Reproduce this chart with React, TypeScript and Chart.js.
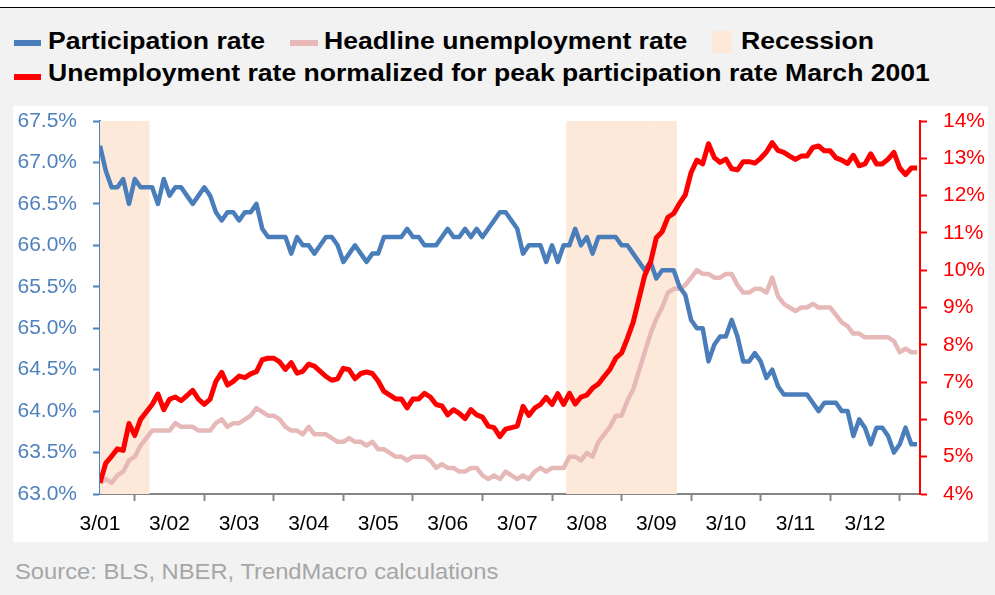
import React, { useEffect, useRef } from "react";
import { Chart, registerables } from "chart.js";

Chart.register(...registerables);

// Monthly data, March 2001 (index 0) to December 2012 (index 141)
const participationRate = [
  67.2, 66.9, 66.7, 66.7, 66.8, 66.5, 66.8, 66.7, 66.7, 66.7,
  66.5, 66.8, 66.6, 66.7, 66.7, 66.6, 66.5, 66.6, 66.7, 66.6, 66.4, 66.3,
  66.4, 66.4, 66.3, 66.4, 66.4, 66.5, 66.2, 66.1, 66.1, 66.1, 66.1, 65.9,
  66.1, 66.0, 66.0, 65.9, 66.0, 66.1, 66.1, 66.0, 65.8, 65.9, 66.0, 65.9,
  65.8, 65.9, 65.9, 66.1, 66.1, 66.1, 66.1, 66.2, 66.1, 66.1, 66.0, 66.0,
  66.0, 66.1, 66.2, 66.1, 66.1, 66.2, 66.1, 66.2, 66.1, 66.2, 66.3, 66.4,
  66.4, 66.3, 66.2, 65.9, 66.0, 66.0, 66.0, 65.8, 66.0, 65.8, 66.0, 66.0,
  66.2, 66.0, 66.1, 65.9, 66.1, 66.1, 66.1, 66.1, 66.0, 66.0, 65.9, 65.8,
  65.7, 65.8, 65.6, 65.7, 65.7, 65.7, 65.5, 65.4, 65.1, 65.0, 65.0, 64.6,
  64.8, 64.9, 64.9, 65.1, 64.9, 64.6, 64.6, 64.7, 64.6, 64.4, 64.5, 64.3,
  64.2, 64.2, 64.2, 64.2, 64.2, 64.1, 64.0, 64.1, 64.1, 64.1, 64.0, 64.0,
  63.7, 63.9, 63.8, 63.6, 63.8, 63.8, 63.7, 63.5, 63.6, 63.8, 63.6, 63.6,
];

const headlineUnemployment = [
  4.3, 4.4, 4.3, 4.5, 4.6, 4.9, 5.0, 5.3, 5.5, 5.7,
  5.7, 5.7, 5.7, 5.9, 5.8, 5.8, 5.8, 5.7, 5.7, 5.7, 5.9, 6.0,
  5.8, 5.9, 5.9, 6.0, 6.1, 6.3, 6.2, 6.1, 6.1, 6.0, 5.8, 5.7,
  5.7, 5.6, 5.8, 5.6, 5.6, 5.6, 5.5, 5.4, 5.4, 5.5, 5.4, 5.4,
  5.3, 5.4, 5.2, 5.2, 5.1, 5.0, 5.0, 4.9, 5.0, 5.0, 5.0, 4.9,
  4.7, 4.8, 4.7, 4.7, 4.6, 4.6, 4.7, 4.7, 4.5, 4.4, 4.5, 4.4,
  4.6, 4.5, 4.4, 4.5, 4.4, 4.6, 4.7, 4.6, 4.7, 4.7, 4.7, 5.0,
  5.0, 4.9, 5.1, 5.0, 5.4, 5.6, 5.8, 6.1, 6.1, 6.5, 6.8, 7.3,
  7.8, 8.3, 8.7, 9.0, 9.4, 9.5, 9.5, 9.6, 9.8, 10.0, 9.9, 9.9,
  9.8, 9.8, 9.9, 9.9, 9.6, 9.4, 9.4, 9.5, 9.5, 9.4, 9.8, 9.3,
  9.1, 9.0, 8.9, 9.0, 9.0, 9.1, 9.0, 9.0, 9.0, 8.8, 8.6, 8.5,
  8.3, 8.3, 8.2, 8.2, 8.2, 8.2, 8.2, 8.1, 7.8, 7.9, 7.8, 7.8,
];

const normalizedUnemployment = [
  4.30, 4.83, 5.01, 5.21, 5.17, 5.89, 5.57, 6.00, 6.20, 6.40,
  6.68, 6.26, 6.54, 6.60, 6.50, 6.64, 6.78, 6.54, 6.40, 6.54, 7.02, 7.26,
  6.92, 7.02, 7.16, 7.12, 7.22, 7.28, 7.60, 7.64, 7.64, 7.54, 7.34, 7.52,
  7.24, 7.29, 7.48, 7.43, 7.29, 7.15, 7.05, 7.09, 7.37, 7.33, 7.09, 7.23,
  7.27, 7.23, 7.03, 6.75, 6.65, 6.55, 6.55, 6.31, 6.55, 6.55, 6.70, 6.60,
  6.40, 6.36, 6.12, 6.26, 6.16, 6.02, 6.26, 6.12, 6.06, 5.82, 5.78, 5.54,
  5.74, 5.78, 5.82, 6.35, 6.11, 6.30, 6.40, 6.59, 6.40, 6.69, 6.40, 6.70,
  6.41, 6.60, 6.65, 6.84, 6.95, 7.15, 7.34, 7.64, 7.78, 8.17, 8.60, 9.23,
  9.86, 10.21, 10.87, 11.03, 11.42, 11.52, 11.79, 12.02, 12.62, 12.95, 12.85, 13.39,
  13.02, 12.89, 12.98, 12.72, 12.69, 12.91, 12.91, 12.87, 13.00, 13.17, 13.42, 13.21,
  13.16, 13.06, 12.97, 13.06, 13.06, 13.29, 13.33, 13.20, 13.20, 13.01, 12.95, 12.86,
  13.08, 12.80, 12.85, 13.12, 12.85, 12.85, 12.98, 13.16, 12.74, 12.56, 12.74, 12.74,
];

// NBER recessions, as month indexes (first and last month)
const recessionStartMonths = [0, 81];
const recessionEndMonths = [8, 99];

const xTickMonths = [0, 12, 24, 36, 48, 60, 72, 84, 96, 108, 120, 132];
const xTickLabels = ["3/01", "3/02", "3/03", "3/04", "3/05", "3/06", "3/07", "3/08", "3/09", "3/10", "3/11", "3/12"];

const leftAxisMin = 63;
const leftAxisMax = 67.5;
const rightAxisMin = 4;
const rightAxisMax = 14;

const FONT = "'Liberation Sans', Arial, sans-serif";

export default function App() {
  const canvasRef = useRef<HTMLCanvasElement>(null);

  useEffect(() => {
    const toPoints = (arr: number[]) => arr.map((v, i) => ({ x: i, y: v }));
    const recessionPoints: { x: number; y: number }[] = [];
    recessionStartMonths.forEach((s, k) => {
      for (let m = s; m <= recessionEndMonths[k]; m++) recessionPoints.push({ x: m, y: 1 });
    });

    const tickFont = { family: FONT, size: 21 };

    const chart = new Chart(canvasRef.current as HTMLCanvasElement, {
      type: "line",
      data: {
        datasets: [
          {
            type: "line",
            label: "Unemployment rate normalized for peak participation rate March 2001",
            data: toPoints(normalizedUnemployment),
            borderColor: "#ff0000",
            backgroundColor: "#ff0000",
            borderWidth: 5,
            pointRadius: 0,
            borderJoinStyle: "round",
            yAxisID: "yR",
            order: 1,
          },
          {
            type: "line",
            label: "Participation rate",
            data: toPoints(participationRate),
            borderColor: "#4a7ebb",
            backgroundColor: "#4a7ebb",
            borderWidth: 4.5,
            pointRadius: 0,
            borderJoinStyle: "round",
            yAxisID: "yL",
            order: 2,
          },
          {
            type: "line",
            label: "Headline unemployment rate",
            data: toPoints(headlineUnemployment),
            borderColor: "#e6b9b8",
            backgroundColor: "#e6b9b8",
            borderWidth: 4.5,
            pointRadius: 0,
            borderJoinStyle: "round",
            yAxisID: "yR",
            order: 3,
          },
          {
            type: "bar",
            label: "Recession",
            data: recessionPoints,
            backgroundColor: "#fde9d9",
            borderWidth: 0,
            barPercentage: 1,
            categoryPercentage: 1,
            yAxisID: "yRec",
            order: 10,
          } as any,
        ],
      },
      options: {
        animation: false,
        responsive: false,
        maintainAspectRatio: false,
        layout: { padding: { top: 15, left: 0, right: 0, bottom: 0 } },
        plugins: { legend: { display: false }, tooltip: { enabled: false } },
        scales: {
          x: {
            type: "linear",
            min: 0,
            max: 141.5,
            offset: false,
            afterBuildTicks: (scale: any) => {
              scale.ticks = xTickMonths.map((v) => ({ value: v }));
            },
            afterFit: (scale: any) => {
              scale.height = 48;
              scale.paddingLeft = 0;
              scale.paddingRight = 0;
            },
            ticks: {
              autoSkip: false,
              maxRotation: 0,
              color: "#000000",
              font: tickFont,
              padding: 11,
              callback: (v: any) => {
                const i = xTickMonths.indexOf(Number(v));
                return i >= 0 ? xTickLabels[i] : "";
              },
            },
            grid: { drawOnChartArea: false, drawTicks: true, tickLength: 7, tickColor: "#868686", tickWidth: 2 },
            border: { color: "#868686", width: 2 },
          },
          yL: {
            type: "linear",
            position: "left",
            min: leftAxisMin,
            max: leftAxisMax,
            afterFit: (scale: any) => {
              scale.width = 100;
              scale.paddingTop = 0;
              scale.paddingBottom = 0;
            },
            ticks: {
              stepSize: 0.5,
              color: "#4f81bd",
              font: tickFont,
              padding: 16,
              callback: (v: any) => Number(v).toFixed(1) + "%",
            },
            grid: { drawOnChartArea: false, drawTicks: true, tickLength: 7, tickColor: "#4f81bd", tickWidth: 2 },
            border: { color: "#4f81bd", width: 2 },
          },
          yR: {
            type: "linear",
            position: "right",
            min: rightAxisMin,
            max: rightAxisMax,
            afterFit: (scale: any) => {
              scale.width = 75;
              scale.paddingTop = 0;
              scale.paddingBottom = 0;
            },
            ticks: {
              stepSize: 1,
              color: "#ff0000",
              font: tickFont,
              padding: 16,
              callback: (v: any) => Number(v).toFixed(0) + "%",
            },
            grid: { drawOnChartArea: false, drawTicks: true, tickLength: 7, tickColor: "#ff0000", tickWidth: 2 },
            border: { color: "#ff0000", width: 2 },
          },
          yRec: {
            type: "linear",
            display: false,
            min: 0,
            max: 1,
          },
        },
      } as any,
    });
    return () => chart.destroy();
  }, []);

  const legendText: React.CSSProperties = {
    position: "absolute",
    fontFamily: FONT,
    fontWeight: "bold",
    fontSize: 24.5,
    lineHeight: "24.5px",
    color: "#000",
    whiteSpace: "nowrap",
    transform: "scaleX(1.085)",
    transformOrigin: "left center",
  };
  const swatch = (left: number, top: number, w: number, h: number, color: string): React.CSSProperties => ({
    position: "absolute",
    left,
    top,
    width: w,
    height: h,
    background: color,
  });

  return (
    <div
      style={{
        position: "absolute",
        left: 0,
        top: 0,
        width: 995,
        height: 595,
        background: "#f2f2f2",
        overflow: "hidden",
      }}
    >
      <div style={{ position: "absolute", left: 0, top: 0, width: 995, height: 7, background: "#ffffff" }} />
      <div style={{ position: "absolute", left: 0, top: 7, width: 995, height: 1, background: "#000000" }} />

      <div style={swatch(14, 40, 27, 6, "#4a7ebb")} />
      <div style={{ ...legendText, left: 48, top: 29 }}>Participation rate</div>
      <div style={swatch(290, 40, 28, 6, "#e6b9b8")} />
      <div style={{ ...legendText, left: 324, top: 29 }}>Headline unemployment rate</div>
      <div style={swatch(712, 31, 20, 22, "#fde9d9")} />
      <div style={{ ...legendText, left: 741, top: 29 }}>Recession</div>
      <div style={swatch(14, 74, 27, 6, "#ff0000")} />
      <div style={{ ...legendText, left: 48, top: 61 }}>
        Unemployment rate normalized for peak participation rate March 2001
      </div>

      <div style={{ position: "absolute", left: 13, top: 106, width: 975, height: 436, background: "#ffffff" }} />
      <canvas
        ref={canvasRef}
        width={995}
        height={436}
        style={{ position: "absolute", left: 0, top: 106, width: 995, height: 436, display: "block" }}
      />

      <div
        style={{
          position: "absolute",
          left: 15,
          top: 561,
          fontFamily: FONT,
          fontSize: 22,
          lineHeight: "22px",
          color: "#a6a6a6",
          whiteSpace: "nowrap",
          transform: "scaleX(1.08)",
          transformOrigin: "left center",
        }}
      >
        Source: BLS, NBER, TrendMacro calculations
      </div>
    </div>
  );
}
